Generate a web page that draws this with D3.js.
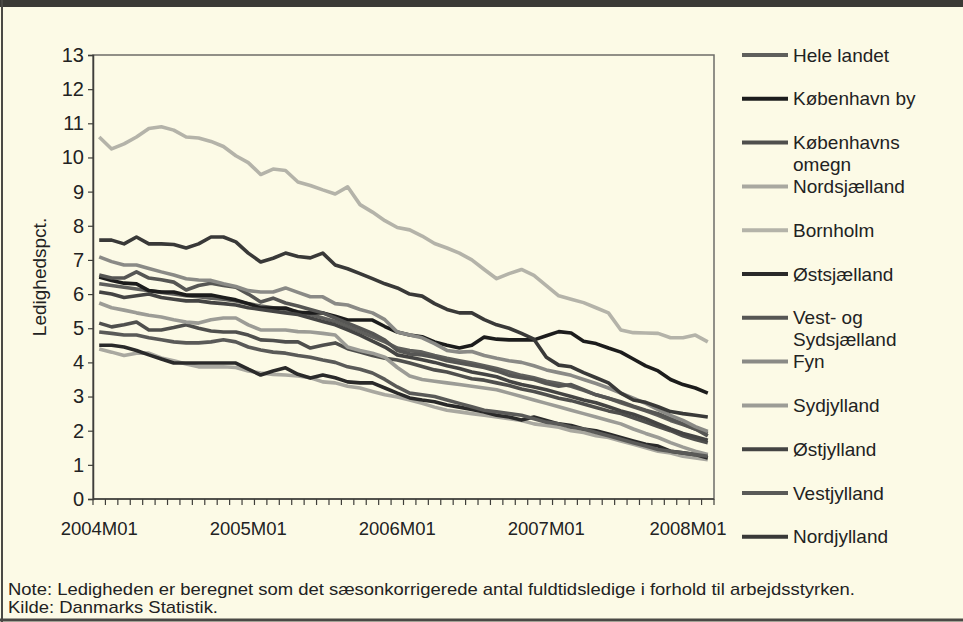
<!DOCTYPE html>
<html>
<head>
<meta charset="utf-8">
<script src="https://cdn.jsdelivr.net/npm/d3@7"></script>
<style>
  body { margin: 0; background: #fcfae6; }
  svg { display: block; font-family: "Liberation Sans", Arial, sans-serif; }
</style>
</head>
<body>
<div id="chart"></div>
<script>
// Months 2004M01 .. 2008M02
const months = [];
for (let y = 2004; y <= 2008; y++) {
    for (let m = 1; m <= 12; m++) {
        if (y === 2008 && m > 2) break;
        months.push(y + "M" + String(m).padStart(2, "0"));
    }
}
const tickLabels = ["2004M01", "2005M01", "2006M01", "2007M01", "2008M01"];
const yTicks = [0, 1, 2, 3, 4, 5, 6, 7, 8, 9, 10, 11, 12, 13];

const regions = ["Hele landet", "København by", "Københavns omegn", "Nordsjælland", "Bornholm",
    "Østsjælland", "Vest- og Sydsjælland", "Fyn", "Sydjylland", "Østjylland", "Vestjylland", "Nordjylland"];
const legendLines = [["Hele landet"], ["København by"], ["Københavns", "omegn"], ["Nordsjælland"], ["Bornholm"],
    ["Østsjælland"], ["Vest- og", "Sydsjælland"], ["Fyn"], ["Sydjylland"], ["Østjylland"], ["Vestjylland"], ["Nordjylland"]];
const colors = ["#5f5f5c", "#1c1c1c", "#4f4f4d", "#a9a8a0", "#b4b3a9", "#2a2a2a",
    "#565654", "#8a8a86", "#9c9c96", "#444443", "#5a5a58", "#393938"];

// Values (ledighed i pct.)
const heleLandet = [6.3, 6.25, 6.2, 6.15, 6.1, 6.05, 6.0, 5.95, 5.92, 5.88, 5.85, 5.8, 5.72, 5.65, 5.6, 5.55, 5.48, 5.4, 5.3, 5.2, 5.05, 4.9, 4.75, 4.6, 4.42, 4.35, 4.3, 4.2, 4.12, 4.05, 3.98, 3.9, 3.82, 3.72, 3.62, 3.55, 3.45, 3.38, 3.3, 3.18, 3.05, 2.95, 2.82, 2.7, 2.58, 2.45, 2.3, 2.18, 2.05, 1.92];
const kbhBy = [6.5, 6.4, 6.32, 6.3, 6.1, 6.06, 6.06, 5.97, 5.97, 5.97, 5.9, 5.83, 5.72, 5.59, 5.59, 5.59, 5.47, 5.45, 5.45, 5.35, 5.24, 5.24, 5.24, 5.05, 4.89, 4.8, 4.75, 4.6, 4.5, 4.42, 4.5, 4.74, 4.68, 4.66, 4.66, 4.66, 4.78, 4.9, 4.86, 4.62, 4.55, 4.42, 4.3, 4.1, 3.9, 3.75, 3.5, 3.35, 3.25, 3.1];
const kbhOmegn = [5.15, 5.04, 5.1, 5.18, 4.95, 4.95, 5.02, 5.1, 5.0, 4.92, 4.89, 4.89, 4.8, 4.66, 4.64, 4.6, 4.6, 4.42, 4.5, 4.57, 4.4, 4.3, 4.2, 4.12, 4.07, 3.98, 3.88, 3.78, 3.72, 3.62, 3.52, 3.48, 3.4, 3.32, 3.22, 3.15, 3.05, 2.95, 2.88, 2.78, 2.68, 2.58, 2.5, 2.38, 2.25, 2.12, 2.0, 1.85, 1.74, 1.65];
const nordsjaelland = [4.39, 4.3, 4.2, 4.27, 4.27, 4.13, 4.05, 3.95, 3.87, 3.87, 3.87, 3.85, 3.75, 3.69, 3.65, 3.63, 3.6, 3.55, 3.43, 3.4, 3.3, 3.25, 3.15, 3.05, 2.99, 2.9, 2.8, 2.69, 2.6, 2.55, 2.5, 2.45, 2.4, 2.35, 2.3, 2.2, 2.15, 2.1, 2.0, 1.95, 1.85, 1.8, 1.7, 1.6, 1.5, 1.4, 1.35, 1.25, 1.2, 1.15];
const bornholm = [10.6, 10.25, 10.4, 10.6, 10.85, 10.9, 10.8, 10.6, 10.57, 10.47, 10.32, 10.05, 9.85, 9.5, 9.66, 9.62, 9.28, 9.18, 9.05, 8.93, 9.14, 8.62, 8.4, 8.15, 7.95, 7.88, 7.7, 7.48, 7.35, 7.2, 7.0, 6.72, 6.45, 6.6, 6.72, 6.55, 6.25, 5.95, 5.85, 5.75, 5.6, 5.45, 4.95, 4.87, 4.86, 4.85, 4.72, 4.72, 4.8, 4.6];
const oestsjaelland = [4.5, 4.5, 4.45, 4.35, 4.22, 4.1, 3.98, 3.98, 3.98, 3.98, 3.98, 3.98, 3.8, 3.63, 3.75, 3.84, 3.65, 3.54, 3.63, 3.55, 3.43, 3.4, 3.4, 3.25, 3.1, 2.96, 2.9, 2.85, 2.75, 2.69, 2.62, 2.55, 2.45, 2.4, 2.31, 2.4, 2.3, 2.2, 2.15, 2.05, 2.0, 1.9, 1.8, 1.7, 1.6, 1.55, 1.4, 1.35, 1.3, 1.2];
const vestSydsjaelland = [6.56, 6.47, 6.47, 6.65, 6.47, 6.42, 6.35, 6.12, 6.25, 6.32, 6.25, 6.2, 6.0, 5.77, 5.88, 5.74, 5.65, 5.55, 5.45, 5.3, 5.15, 5.0, 4.85, 4.65, 4.35, 4.25, 4.22, 4.15, 4.05, 3.98, 3.92, 3.85, 3.75, 3.62, 3.55, 3.5, 3.38, 3.3, 3.35, 3.2, 3.05, 2.95, 2.85, 2.72, 2.6, 2.5, 2.35, 2.2, 2.05, 1.85];
const fyn = [7.09, 6.95, 6.85, 6.85, 6.75, 6.65, 6.56, 6.45, 6.41, 6.4, 6.3, 6.22, 6.1, 6.06, 6.06, 6.18, 6.05, 5.92, 5.92, 5.72, 5.68, 5.55, 5.45, 5.25, 4.89, 4.8, 4.72, 4.55, 4.35, 4.3, 4.32, 4.2, 4.12, 4.05, 4.0, 3.9, 3.78, 3.7, 3.62, 3.5, 3.38, 3.25, 3.1, 2.95, 2.8, 2.62, 2.45, 2.3, 2.12, 1.98];
const sydjylland = [5.74, 5.6, 5.53, 5.45, 5.38, 5.33, 5.25, 5.18, 5.15, 5.25, 5.3, 5.3, 5.1, 4.95, 4.95, 4.95, 4.9, 4.89, 4.85, 4.8, 4.45, 4.35, 4.27, 4.15, 3.85, 3.6, 3.5, 3.45, 3.4, 3.35, 3.3, 3.25, 3.2, 3.1, 3.0, 2.9, 2.8, 2.7, 2.6, 2.5, 2.4, 2.3, 2.2, 2.05, 1.92, 1.8, 1.65, 1.52, 1.4, 1.3];
const oestjylland = [6.06, 6.0, 5.9, 5.95, 6.0, 5.9, 5.85, 5.8, 5.8, 5.75, 5.72, 5.68, 5.6, 5.55, 5.5, 5.45, 5.4, 5.3, 5.2, 5.1, 4.95, 4.8, 4.62, 4.45, 4.22, 4.15, 4.08, 4.0, 3.9, 3.82, 3.72, 3.65, 3.58, 3.45, 3.35, 3.28, 3.2, 3.1, 3.0, 2.9, 2.82, 2.7, 2.58, 2.48, 2.35, 2.2, 2.05, 1.92, 1.82, 1.72];
const vestjylland = [4.89, 4.85, 4.8, 4.8, 4.72, 4.66, 4.6, 4.57, 4.57, 4.6, 4.66, 4.6, 4.45, 4.36, 4.3, 4.27, 4.2, 4.15, 4.07, 4.0, 3.87, 3.8, 3.69, 3.5, 3.28, 3.1, 3.05, 3.0, 2.9, 2.8, 2.7, 2.6, 2.55, 2.5, 2.45, 2.35, 2.25, 2.2, 2.1, 2.05, 1.95, 1.85, 1.75, 1.65, 1.55, 1.45, 1.4, 1.35, 1.3, 1.25];
const nordjylland = [7.58, 7.58, 7.47, 7.67, 7.47, 7.47, 7.45, 7.35, 7.47, 7.67, 7.67, 7.53, 7.2, 6.94, 7.05, 7.2, 7.1, 7.06, 7.2, 6.85, 6.74, 6.6, 6.45, 6.3, 6.18, 6.0, 5.94, 5.72, 5.55, 5.45, 5.45, 5.25, 5.1, 5.0, 4.85, 4.68, 4.15, 3.92, 3.87, 3.7, 3.55, 3.4, 3.1, 2.9, 2.83, 2.7, 2.56, 2.5, 2.45, 2.4];

const seriesValues = [heleLandet, kbhBy, kbhOmegn, nordsjaelland, bornholm, oestsjaelland,
    vestSydsjaelland, fyn, sydjylland, oestjylland, vestjylland, nordjylland];

const width = 963, height = 622;
const plot = { left: 93, right: 714, top: 55, bottom: 499 };

const svg = d3.select("#chart").append("svg")
    .attr("width", width)
    .attr("height", height);

// Page frame (scanned border)
svg.append("rect").attr("x", 0).attr("y", 0).attr("width", width).attr("height", 7).attr("fill", "#3b3a36");
svg.append("line").attr("x1", 2).attr("x2", 2).attr("y1", 0).attr("y2", height).attr("stroke", "#4a4945").attr("stroke-width", 2);
svg.append("line").attr("x1", 0).attr("x2", width).attr("y1", 620).attr("y2", 620).attr("stroke", "#4a4945").attr("stroke-width", 3);

const x = d3.scaleBand().domain(months).range([plot.left, plot.right]);
const y = d3.scaleLinear().domain([0, 13]).range([plot.bottom, plot.top]);

// Plot area border
svg.append("rect")
    .attr("x", plot.left).attr("y", plot.top)
    .attr("width", plot.right - plot.left).attr("height", plot.bottom - plot.top)
    .attr("fill", "none").attr("stroke", "#6d6c68").attr("stroke-width", 1.5);

// Y axis
const yAxis = svg.append("g")
    .attr("transform", `translate(${plot.left},0)`)
    .call(d3.axisLeft(y).tickValues(yTicks).tickSize(5).tickPadding(4).tickFormat(d3.format("d")));
yAxis.select(".domain").attr("stroke", "#3f3e3a").attr("stroke-width", 1.5);
yAxis.selectAll(".tick line").attr("stroke", "#3f3e3a").attr("stroke-width", 1.2);
yAxis.selectAll(".tick text").attr("font-size", 20).attr("fill", "#222");

svg.append("text")
    .attr("transform", `translate(46,${(plot.top + plot.bottom) / 2}) rotate(-90)`)
    .attr("text-anchor", "middle")
    .attr("font-size", 19)
    .attr("fill", "#222")
    .text("Ledighedspct.");

// X axis: ticks between months, labels every 12 months
const xAxis = svg.append("g");
xAxis.append("line")
    .attr("x1", plot.left).attr("x2", plot.right)
    .attr("y1", plot.bottom).attr("y2", plot.bottom)
    .attr("stroke", "#3f3e3a").attr("stroke-width", 1.5);
xAxis.selectAll(".mtick")
    .data(months.concat(["end"]))
    .enter().append("line")
    .attr("class", "mtick")
    .attr("x1", d => d === "end" ? plot.right : x(d))
    .attr("x2", d => d === "end" ? plot.right : x(d))
    .attr("y1", plot.bottom).attr("y2", plot.bottom + 6)
    .attr("stroke", "#3f3e3a").attr("stroke-width", 1.2);
xAxis.selectAll(".xlabel")
    .data(tickLabels)
    .enter().append("text")
    .attr("class", "xlabel")
    .attr("x", d => Math.min(x(d) + x.bandwidth() / 2, 688))
    .attr("y", 535)
    .attr("text-anchor", "middle")
    .attr("font-size", 18.5)
    .attr("fill", "#222")
    .text(d => d);

// Lines
const line = d3.line()
    .x((d, i) => x(months[i]) + x.bandwidth() / 2)
    .y(d => y(d));

svg.append("g").selectAll("path")
    .data(seriesValues)
    .enter().append("path")
    .attr("d", d => line(d))
    .attr("fill", "none")
    .attr("stroke", (d, i) => colors[i])
    .attr("stroke-width", 3.6)
    .attr("stroke-linejoin", "round");

// Legend
const legend = svg.append("g");
regions.forEach((r, i) => {
    const ly = 55 + i * 43.8;
    legend.append("line")
        .attr("x1", 742).attr("x2", 788)
        .attr("y1", ly).attr("y2", ly)
        .attr("stroke", colors[i]).attr("stroke-width", 4);
    const t = legend.append("text")
        .attr("x", 793).attr("y", ly)
        .attr("font-size", 19)
        .attr("fill", "#222");
    legendLines[i].forEach((s, k) => {
        t.append("tspan").attr("x", 793).attr("dy", k === 0 ? "0.35em" : 22).text(s);
    });
});

// Notes
svg.append("text")
    .attr("x", 8).attr("y", 595)
    .attr("font-size", 17)
    .attr("fill", "#222")
    .attr("textLength", 847).attr("lengthAdjust", "spacingAndGlyphs")
    .text("Note: Ledigheden er beregnet som det sæsonkorrigerede antal fuldtidsledige i forhold til arbejdsstyrken.");
svg.append("text")
    .attr("x", 8).attr("y", 613)
    .attr("font-size", 17)
    .attr("fill", "#222")
    .attr("textLength", 210).attr("lengthAdjust", "spacingAndGlyphs")
    .text("Kilde: Danmarks Statistik.");
</script>
</body>
</html>
